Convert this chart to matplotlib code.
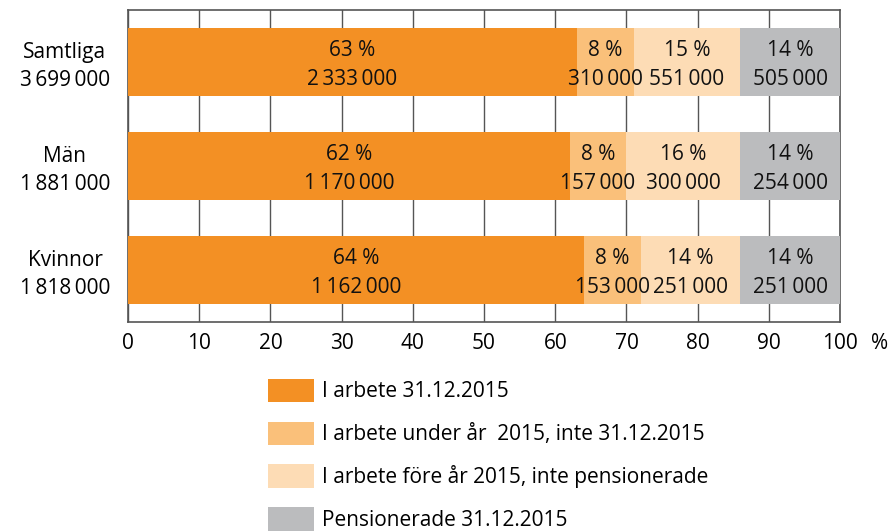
import numpy as np
import matplotlib
matplotlib.use("Agg")
import matplotlib.pyplot as plt
from matplotlib import transforms

plt.rcParams['font.family'] = ['Open Sans', 'DejaVu Sans']

# data (thin spaces as thousands separators)
groups = ["Samtliga", "Män", "Kvinnor"]
totals = ["3\u2009699\u2009000", "1\u2009881\u2009000", "1\u2009818\u2009000"]
series = [
    "I arbete 31.12.2015",
    "I arbete under år  2015, inte 31.12.2015",
    "I arbete före år 2015, inte pensionerade",
    "Pensionerade 31.12.2015",
]
pct = [
    [63, 62, 64],
    [8, 8, 8],
    [15, 16, 14],
    [14, 14, 14],
]
counts = [
    ["2\u2009333\u2009000", "1\u2009170\u2009000", "1\u2009162\u2009000"],
    ["310\u2009000", "157\u2009000", "153\u2009000"],
    ["551\u2009000", "300\u2009000", "251\u2009000"],
    ["505\u2009000", "254\u2009000", "251\u2009000"],
]
colors = ["#F39024", "#FAC07A", "#FDDCB5", "#BBBCBE"]

fs = 15

fig = plt.figure(figsize=(8.89, 5.32), dpi=100)
ax = fig.add_axes([0.144, 0.3947, 0.801, 0.5863])

y = np.arange(len(groups))
left = np.zeros(len(groups))
handles = []
for i, name in enumerate(series):
    vals = np.array(pct[i], dtype=float)
    b = ax.barh(y, vals, left=left, height=0.66, color=colors[i], label=name, zorder=3)
    handles.append(b)
    for j in range(len(groups)):
        cx = left[j] + vals[j] / 2
        ax.text(cx, y[j] - 0.11, f"{pct[i][j]} %", ha='center', va='center',
                fontsize=fs, color='#111111', zorder=4)
        ax.text(cx, y[j] + 0.165, counts[i][j], ha='center', va='center',
                fontsize=fs, color='#111111', zorder=4)
    left += vals

ax.set_xlim(0, 100)
ax.set_ylim(2.5, -0.5)
ax.set_xticks(np.arange(0, 101, 10))
ax.set_yticks([])
ax.tick_params(axis='x', length=0, pad=8, labelsize=fs)
ax.grid(axis='x', color='#555555', linewidth=1.0, zorder=0)
ax.set_axisbelow(True)
for s in ax.spines.values():
    s.set_color('#555555')
    s.set_linewidth(1.2)

# category labels, two lines centred on each other
trans = transforms.blended_transform_factory(ax.transAxes, ax.transData)
for j, (g, t) in enumerate(zip(groups, totals)):
    ax.text(-0.0885, y[j] - 0.09, g, transform=trans, ha='center', va='center', fontsize=fs)
    ax.text(-0.0885, y[j] + 0.18, t, transform=trans, ha='center', va='center', fontsize=fs)

ax.annotate('%', xy=(1, 0), xycoords='axes fraction', xytext=(22, -8),
            textcoords='offset points', ha='left', va='top', fontsize=fs)

fig.legend(handles=handles, labels=series, loc='upper left',
           bbox_to_anchor=(0.3015, 0.288), frameon=False, fontsize=fs,
           handlelength=2.2, handleheight=1.35, labelspacing=0.92,
           handletextpad=0.4, borderpad=0, borderaxespad=0)

fig.savefig("out.png", dpi=100)
